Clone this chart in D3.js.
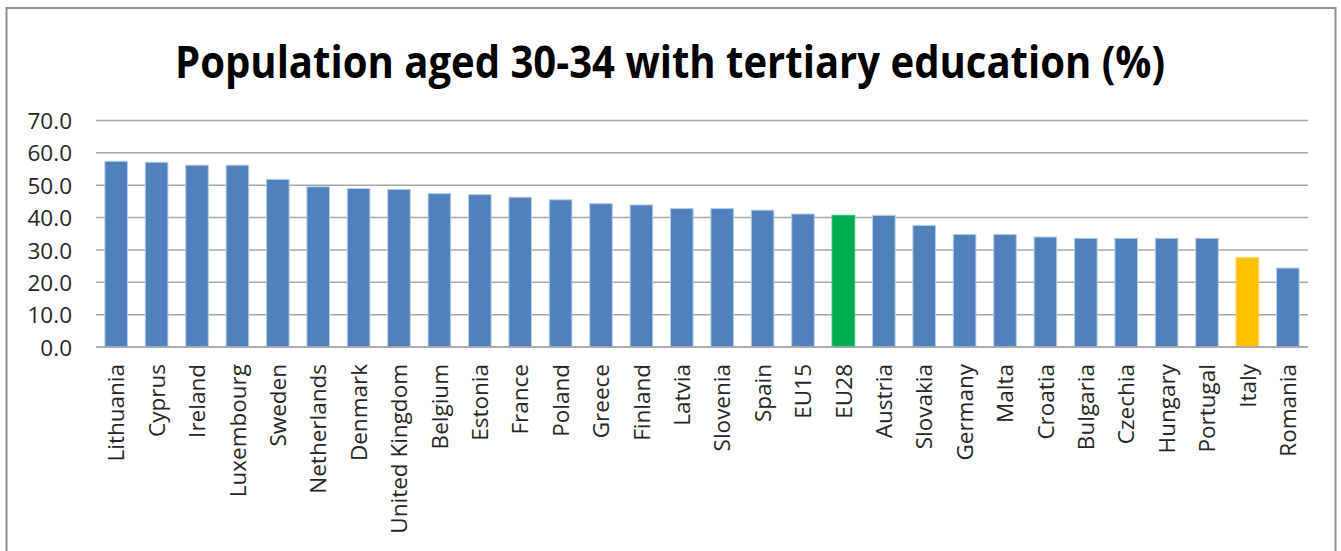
<!DOCTYPE html>
<html>
<head>
<meta charset="utf-8">
<script src="https://cdn.jsdelivr.net/npm/d3@7"></script>
<style>
  html, body { margin: 0; padding: 0; background: #fff; }
  svg { display: block; }
</style>
</head>
<body>
<svg id="chart" width="1341" height="551"></svg>
<script>
const categories = ["Lithuania","Cyprus","Ireland","Luxembourg","Sweden","Netherlands","Denmark","United Kingdom","Belgium","Estonia","France","Poland","Greece","Finland","Latvia","Slovenia","Spain","EU15","EU28","Austria","Slovakia","Germany","Malta","Croatia","Bulgaria","Czechia","Hungary","Portugal","Italy","Romania"];
const values = [57.4,57.1,56.2,56.2,51.8,49.5,49.0,48.7,47.4,47.1,46.3,45.5,44.3,43.9,42.8,42.8,42.3,41.1,40.7,40.7,37.6,34.8,34.8,34.0,33.6,33.6,33.6,33.6,27.6,24.4];
const yTicks = [0,10,20,30,40,50,60,70];
const greenCats = ["EU28"];
const orangeCats = ["Italy"];
const title = "Population aged 30-34 with tertiary education (%)";

const svg = d3.select("#chart");

// outer frame
svg.append("rect")
  .attr("x", 6.5).attr("y", 8).attr("width", 1329).attr("height", 560)
  .attr("fill", "#fff").attr("stroke", "#8f8f8f").attr("stroke-width", 2);

// title
svg.append("text")
  .attr("x", 670).attr("y", 78)
  .attr("text-anchor", "middle")
  .attr("font-family", "'Liberation Sans Narrow', 'Open Sans', sans-serif")
  .attr("font-weight", "bold")
  .attr("font-size", 45)
  .attr("fill", "#000")
  .attr("textLength", 990)
  .attr("lengthAdjust", "spacingAndGlyphs")
  .text(title);

const x = d3.scaleBand().domain(categories).range([96, 1308]).paddingInner(0.44).paddingOuter(0.22);
const y = d3.scaleLinear().domain([0, 70]).range([347, 120.5]);

// gridlines
svg.append("g")
  .selectAll("line").data(yTicks).join("line")
  .attr("x1", 96).attr("x2", 1308)
  .attr("y1", d => y(d)).attr("y2", d => y(d))
  .attr("stroke", "#a6a6a6").attr("stroke-width", 1.5);

// y axis labels
const yAxis = d3.axisLeft(y).tickValues(yTicks).tickFormat(d3.format(".1f")).tickSize(0).tickPadding(0);
const gy = svg.append("g").attr("transform", "translate(72,0)").call(yAxis);
gy.select(".domain").remove();
gy.selectAll("text")
  .attr("font-family", "'Open Sans', sans-serif")
  .attr("font-size", 22.5)
  .attr("fill", "#262626")
  .attr("dy", "0.36em");

// bars
const color = c => greenCats.includes(c) ? "#00b050" : orangeCats.includes(c) ? "#ffc000" : "#4f81bd";
svg.append("g")
  .selectAll("rect").data(categories).join("rect")
  .attr("x", c => x(c))
  .attr("width", x.bandwidth())
  .attr("y", (c, i) => y(values[i]))
  .attr("height", (c, i) => y(0) - y(values[i]))
  .attr("fill", c => color(c))
  .attr("stroke", c => greenCats.includes(c) ? "#33c070" : orangeCats.includes(c) ? "#ffd24d" : "#b9cde5")
  .attr("stroke-width", 1);

// baseline
svg.append("line")
  .attr("x1", 96).attr("x2", 1308).attr("y1", y(0)).attr("y2", y(0))
  .attr("stroke", "#a6a6a6").attr("stroke-width", 1.5);

// x axis labels
const xAxis = d3.axisBottom(x).tickSize(0).tickPadding(0);
const gx = svg.append("g").attr("transform", `translate(0,${y(0)})`).call(xAxis);
gx.select(".domain").remove();
gx.selectAll("text")
  .attr("font-family", "'Open Sans', sans-serif")
  .attr("font-size", 22.5)
  .attr("fill", "#262626")
  .attr("text-anchor", "end")
  .attr("transform", "rotate(-90)")
  .attr("x", -17)
  .attr("y", 0)
  .attr("dy", "0.36em");
</script>
</body>
</html>
